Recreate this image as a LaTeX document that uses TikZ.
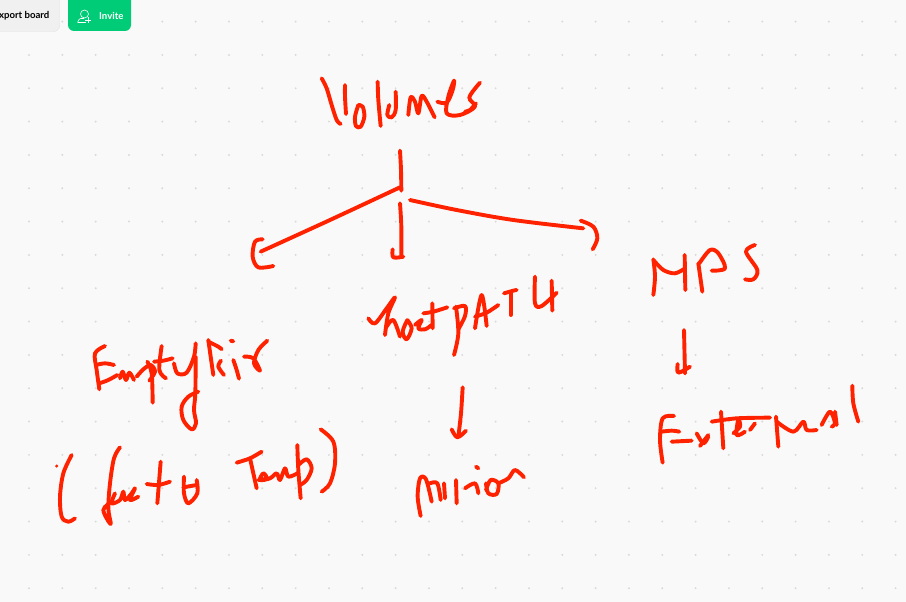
\documentclass[tikz,border=0pt]{standalone}
\usepackage{fontspec}
\setmainfont{Lato}
\definecolor{paper}{HTML}{F9F9F9}
\definecolor{griddot}{HTML}{DADADA}
\definecolor{ink}{HTML}{FF2200}
\definecolor{gbtn}{HTML}{00CC77}
\definecolor{xbtn}{HTML}{F0F0F0}
\definecolor{xedge}{HTML}{E0E0E0}
\tikzset{
  inkline/.style={draw=ink,line width=3.9pt,line cap=round,line join=round},
  zoomed/.style={x=0.33333pt,y=-0.33333pt},
  btntext/.style={font=\fontsize{9.6}{11}\selectfont\bfseries,inner sep=0pt}
}
\newcommand{\stk}[1]{\draw[inkline] plot[smooth,tension=0.55] coordinates {#1};}
\begin{document}
\begin{tikzpicture}[x=1pt,y=-1pt]
\useasboundingbox (0,0) rectangle (906,602);
\clip (0,0) rectangle (906,602);
\fill[paper] (0,0) rectangle (906,602);
% grid
\foreach \i in {0,...,26}{\foreach \j in {0,...,17}{
  \fill[griddot] ({29+33.33*\i},{21.6+33.33*\j}) circle (1.1pt);
}}
% buttons
\draw[fill=xbtn,draw=xedge,rounded corners=6pt] (-20,-10) rectangle (59.5,31.5);
\node[btntext,anchor=east,text=black] (exportlabel) at (49.5,16) {xport board};
\fill[gbtn,rounded corners=6pt] (68,-10) rectangle (131,31);
\node[btntext,anchor=west,text=white] (invitelabel) at (99,16) {Invite};
\draw[white,line width=0.6pt] (84.5,14) circle (4pt);
\draw[white,line width=0.6pt] (77.5,22.5) .. controls (79,17.5) and (82,18) .. (84,18.5);
\draw[white,line width=0.6pt] (77.5,22.5) -- (86,22.5);
\draw[white,line width=0.6pt] (85,20) -- (91,20) (88,17) -- (88,23);
% Volumes and arrows
\begin{scope}[shift={(230,60)},zoomed]
\stk{(275,55)(290,85)(305,135)(320,180)(332,192)}
\stk{(345,75)(345,110)(348,162)}
\stk{(385,135)(375,170)(378,198)(392,200)(403,170)(398,140)(385,135)}
\stk{(443,65)(445,120)(452,198)}
\stk{(478,135)(472,165)(485,172)(497,150)(497,95)}
\stk{(535,165)(542,112)(555,125)(565,160)(575,108)(590,125)(614,172)}
\stk{(622,125)(650,128)(668,90)(672,62)(655,110)(650,160)(690,165)(735,140)(718,112)(750,68)}
\stk{(705,155)(720,150)(738,130)}
\stk{(510,272)(513,330)(514,392)}
\stk{(510,382)(300,480)(92,575)}
\stk{(98,538)(75,545)(68,590)(85,622)(130,618)}
\stk{(510,430)(514,500)(514,590)}
\stk{(488,568)(490,592)(520,590)}
\stk{(540,420)(680,450)(850,480)(1060,505)}
\stk{(1052,482)(1090,500)(1102,535)(1088,568)}
\end{scope}
% EmptyDir ( fast & Temp )
\begin{scope}[shift={(40,330)},zoomed]
\stk{(195,48)(165,70)(170,120)(178,178)}
\stk{(168,105)(195,100)(222,105)}
\stk{(178,160)(205,150)(232,135)}
\stk{(240,145)(248,125)(258,150)(268,128)(282,150)}
\stk{(322,95)(335,130)(338,218)}
\stk{(290,140)(310,118)(332,105)(345,125)(328,152)}
\stk{(365,48)(358,120)(378,145)}
\stk{(342,95)(370,92)(398,85)}
\stk{(402,100)(412,130)(440,128)(462,80)(467,40)}
\stk{(467,80)(466,190)(462,240)(468,280)(455,298)(430,270)(425,230)(445,200)(475,185)}
\stk{(505,30)(512,80)(520,135)}
\stk{(505,35)(535,50)(545,58)}
\stk{(543,92)(535,110)(552,135)}
\stk{(580,90)(590,120)(597,146)}
\stk{(572,32)(580,34)}
\stk{(612,80)(640,85)(660,122)(642,100)(655,60)(682,32)}
\stk{(95,375)(70,430)(60,500)(65,560)(85,575)(105,565)}
\fill[ink] (50,408) circle (5);
\stk{(240,352)(222,385)(210,460)(205,535)(212,582)(190,540)(215,515)}
\stk{(225,490)(215,520)(240,510)(250,485)(255,510)(275,490)(285,475)(270,510)(295,500)}
\stk{(320,462)(355,465)(390,455)}
\stk{(362,395)(352,520)}
\stk{(432,440)(432,490)(445,520)(472,490)(470,450)}
\stk{(430,472)(470,465)}
\stk{(590,398)(630,385)(665,365)}
\stk{(630,385)(640,430)(650,475)}
\stk{(655,450)(680,445)(670,430)(660,450)(690,445)(710,430)(720,450)(735,415)(745,440)(772,430)}
\stk{(772,345)(775,420)(782,505)}
\stk{(775,405)(800,388)(815,415)(800,450)(780,465)}
\stk{(842,298)(880,335)(885,400)(870,460)(845,485)}
\end{scope}
% hostPATH -> minion
\begin{scope}[shift={(350,270)},zoomed]
\stk{(55,145)(75,160)(110,115)(135,82)(115,130)(105,195)}
\stk{(110,170)(130,150)(150,200)}
\stk{(172,150)(158,185)(170,208)(185,175)(172,150)}
\stk{(195,165)(215,150)(205,175)(225,178)(245,165)}
\stk{(247,100)(248,175)}
\stk{(220,130)(250,125)(292,112)}
\stk{(318,110)(325,190)(312,255)}
\stk{(312,115)(345,108)(345,138)(325,178)}
\stk{(375,175)(395,75)(410,168)}
\stk{(375,140)(410,128)(445,105)}
\stk{(462,70)(490,62)(500,60)}
\stk{(482,70)(482,135)}
\stk{(555,20)(555,100)(575,108)(620,68)}
\stk{(605,32)(607,122)}
\stk{(338,352)(333,430)(325,500)}
\stk{(305,478)(322,502)(348,482)}
\stk{(212,738)(203,680)(210,625)(228,628)(245,695)}
\stk{(240,640)(262,640)(272,690)}
\stk{(282,640)(285,685)}
\stk{(318,630)(320,700)}
\stk{(345,655)(375,640)(385,670)}
\stk{(378,590)(385,595)}
\stk{(408,660)(422,630)(445,640)(440,672)(415,670)(408,640)}
\stk{(445,640)(475,625)(495,600)(522,622)}
\end{scope}
% NFS -> External
\begin{scope}[shift={(640,240)},zoomed]
\stk{(40,58)(45,110)(40,165)}
\stk{(42,62)(70,90)(105,100)(135,85)}
\stk{(134,45)(136,150)}
\stk{(175,70)(187,155)}
\stk{(178,70)(210,30)(235,40)(255,85)(215,92)}
\stk{(345,15)(318,35)(352,90)(340,118)(315,118)}
\stk{(132,270)(135,400)}
\stk{(113,372)(115,398)(150,380)}
\stk{(102,528)(68,535)(60,600)(68,668)}
\stk{(65,575)(95,572)(118,575)}
\stk{(95,605)(155,602)}
\stk{(170,580)(190,610)(205,590)}
\stk{(205,585)(180,618)}
\stk{(243,515)(250,625)}
\stk{(215,545)(290,535)(390,533)}
\stk{(280,580)(300,560)(295,538)(290,585)(315,575)}
\stk{(330,570)(345,550)}
\stk{(408,530)(415,620)}
\stk{(410,545)(460,575)(490,545)(500,570)(530,570)}
\stk{(545,555)(570,515)(585,550)(575,560)}
\stk{(585,515)(590,555)}
\stk{(637,437)(640,490)(655,545)}
\end{scope}
\end{tikzpicture}
\end{document}
